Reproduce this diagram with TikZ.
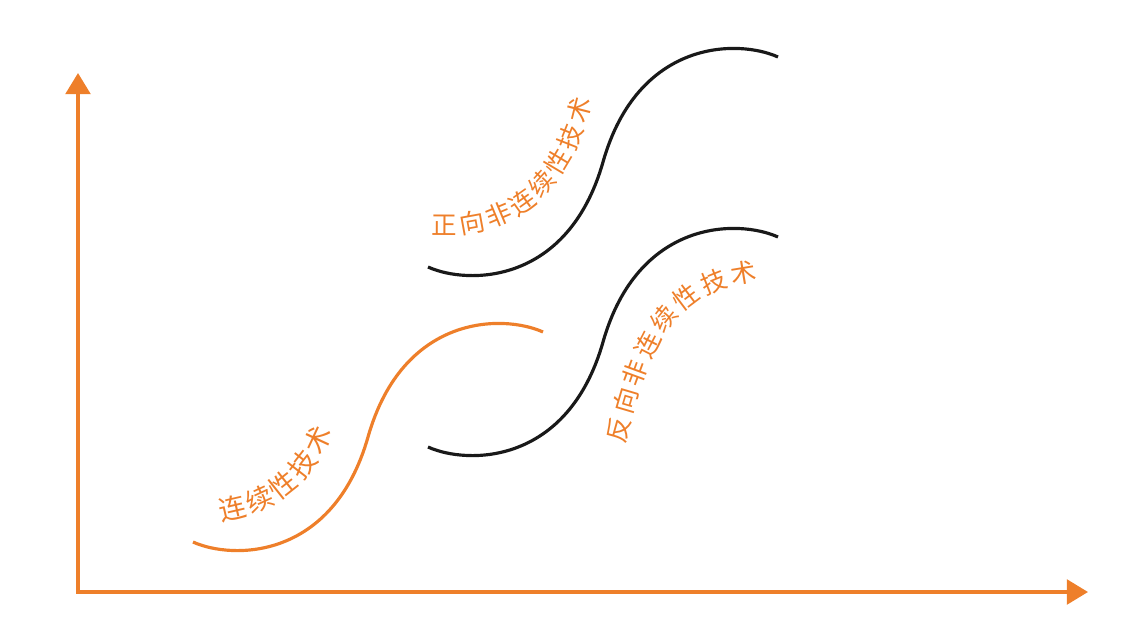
\documentclass[tikz,border=0pt]{standalone}
\usepackage{fontspec}
\usepackage{xcolor}
\usepackage{tikz}
\usetikzlibrary{arrows.meta,positioning,decorations.text}
\newfontfamily\cjk{Noto Sans CJK SC}
\definecolor{accent}{RGB}{238,127,42}
\definecolor{ink}{RGB}{25,25,25}

\begin{document}
\begin{tikzpicture}[
    x=0.02cm, y=-0.02cm,
    axis/.style={
        draw=accent,
        line width=2pt,
        -{Triangle[length=12pt,width=14pt]}
    },
    curve/.style={
        line width=1.8pt
    },
    label/.style={
        decorate,
        decoration={
            text along path,
            text align=fit to path,
            text color=accent
        }
    }
]

\useasboundingbox (0,0) rectangle (1131,632);

% ---- Axes ----
\coordinate (origin) at (78,592);
\coordinate (ytip) at (78,73);
\coordinate (xtip) at (1088,592);

\draw[axis] (origin) -- (ytip);
\draw[axis] ([xshift=-1pt]origin) -- (xtip);

% ---- S-curves ----
\draw[curve, draw=accent, shift={(193,542)}]
    (0,0) .. controls (40,18) and (140,18) .. (175,-105)
          .. controls (210,-228) and (310,-228) .. (350,-210);
\draw[curve, draw=ink, shift={(428,447)}]
    (0,0) .. controls (40,18) and (140,18) .. (175,-105)
          .. controls (210,-228) and (310,-228) .. (350,-210);
\draw[curve, draw=ink, shift={(428,267)}]
    (0,0) .. controls (40,18) and (140,18) .. (175,-105)
          .. controls (210,-228) and (310,-228) .. (350,-210);

% ---- Labels along the curves ----
\path[label, decoration={text={|\cjk\fontsize{15.5}{15.5}\selectfont|连续性技术}}]
    (221,521) .. controls (275,513) and (314,482) .. (332,432);
\path[label, decoration={text={|\cjk\fontsize{14.5}{14.5}\selectfont|正向非连续性技术}}]
    (432,234) .. controls (510,240) and (572,195) .. (591,100);
\path[label, decoration={text={|\cjk\fontsize{14.5}{14.5}\selectfont|反向非连续性技术}}]
    (624,444) .. controls (645,370) and (660,290) .. (758,281);

\end{tikzpicture}
\end{document}
